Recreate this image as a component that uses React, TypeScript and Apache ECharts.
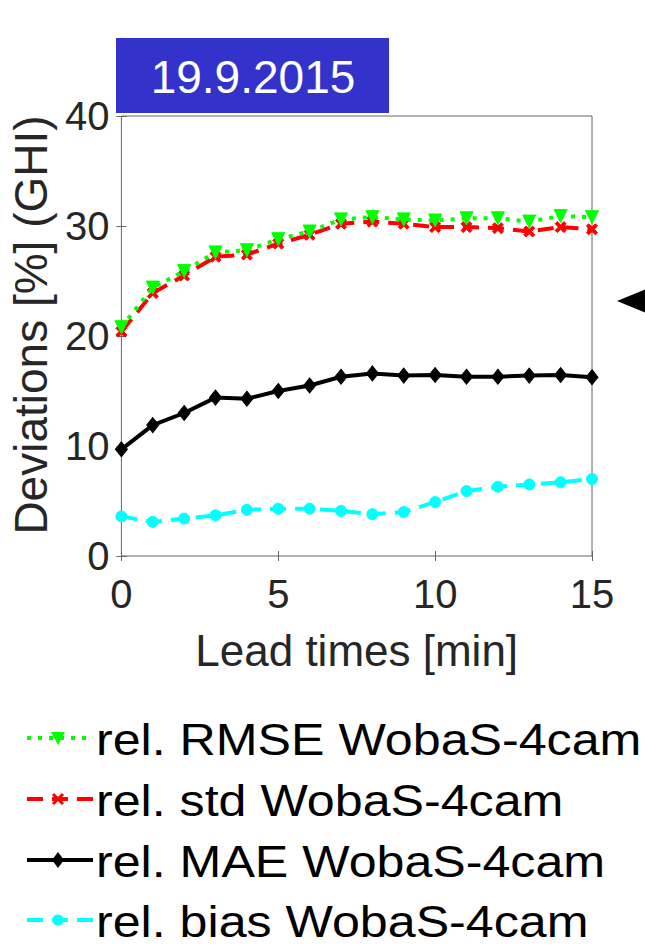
import React, { useEffect, useRef } from "react";
import * as echarts from "echarts";

const leadTimes = [0, 1, 2, 3, 4, 5, 6, 7, 8, 9, 10, 11, 12, 13, 14, 15];
const rmseValues = [20.8, 24.4, 25.9, 27.6, 27.8, 28.8, 29.5, 30.6, 30.8, 30.6, 30.5, 30.7, 30.7, 30.4, 30.9, 30.8];
const stdValues = [20.4, 23.9, 25.5, 27.2, 27.4, 28.4, 29.2, 30.2, 30.4, 30.2, 29.9, 29.9, 29.8, 29.5, 29.9, 29.7];
const maeValues = [9.7, 11.9, 13.0, 14.4, 14.3, 15.0, 15.5, 16.3, 16.6, 16.4, 16.45, 16.3, 16.3, 16.4, 16.45, 16.25];
const biasValues = [3.6, 3.1, 3.4, 3.7, 4.2, 4.3, 4.3, 4.1, 3.8, 4.0, 4.9, 5.9, 6.3, 6.5, 6.7, 7.0];
const seriesNames = [
  "rel. RMSE WobaS-4cam",
  "rel. std WobaS-4cam",
  "rel. MAE WobaS-4cam",
  "rel. bias WobaS-4cam",
];
const titleText = "19.9.2015";
const xAxisName = "Lead times [min]";
const yAxisName = "Deviations [%] (GHI)";

const FONT = "'Liberation Sans', Arial, sans-serif";
const X_SYMBOL = "path://M0,2L2,0L5,3L8,0L10,2L7,5L10,8L8,10L5,7L2,10L0,8L3,5Z";

const styles = [
  { color: "#00ff00", dash: [4, 7], symbol: "triangle", rotate: 180, size: 13 },
  { color: "#ff0000", dash: [16, 9], symbol: X_SYMBOL, rotate: 0, size: 11 },
  { color: "#000000", dash: "solid", symbol: "diamond", rotate: 0, size: [12, 15] },
  { color: "#00ffff", dash: [16, 9], symbol: "circle", rotate: 0, size: 11 },
];

export default function App() {
  const ref = useRef<HTMLDivElement>(null);
  useEffect(() => {
    document.body.style.margin = "0";
    if (!ref.current) return;
    const chart = echarts.init(ref.current, null, { renderer: "svg" });
    const allValues = [rmseValues, stdValues, maeValues, biasValues];
    const series = allValues.map((vals, i) => ({
      name: seriesNames[i],
      type: "line",
      data: leadTimes.map((t, j) => [t, vals[j]]),
      symbol: styles[i].symbol,
      symbolRotate: styles[i].rotate,
      symbolSize: styles[i].size,
      showSymbol: true,
      clip: false,
      lineStyle: { color: styles[i].color, width: 4, type: styles[i].dash as any },
      itemStyle: { color: styles[i].color, borderColor: styles[i].color, borderWidth: 1 },
      z: 10 - i,
    }));

    const legendRowsY = [738, 799, 860, 920];
    const legendGraphics: any[] = [];
    seriesNames.forEach((name, i) => {
      const y = legendRowsY[i];
      const st = styles[i];
      legendGraphics.push({
        type: "line",
        shape: { x1: 27, y1: y, x2: 93, y2: y },
        style: {
          stroke: st.color,
          lineWidth: 4,
          lineDash: st.dash === "solid" ? null : (st.dash as number[]),
        },
      });
      legendGraphics.push({
        type: "text",
        x: 96,
        y: y + 2,
        scaleX: 1.14,
        style: {
          text: name,
          fontSize: 44,
          fontFamily: FONT,
          fill: "#000",
          align: "left",
          verticalAlign: "middle",
        },
      });
    });

    const mk = (i: number, y: number) => {
      const cx = 58;
      if (i === 0)
        return { type: "polygon", shape: { points: [[cx - 7, y - 6], [cx + 7, y - 6], [cx, y + 7]] }, style: { fill: styles[0].color } };
      if (i === 1)
        return {
          type: "group",
          children: [
            { type: "line", shape: { x1: cx - 5, y1: y - 5, x2: cx + 5, y2: y + 5 }, style: { stroke: styles[1].color, lineWidth: 3 } },
            { type: "line", shape: { x1: cx - 5, y1: y + 5, x2: cx + 5, y2: y - 5 }, style: { stroke: styles[1].color, lineWidth: 3 } },
          ],
        };
      if (i === 2)
        return { type: "polygon", shape: { points: [[cx, y - 8], [cx + 6, y], [cx, y + 8], [cx - 6, y]] }, style: { fill: "#000" } };
      return { type: "circle", shape: { cx, cy: y, r: 5.5 }, style: { fill: styles[3].color } };
    };
    legendRowsY.forEach((y, i) => legendGraphics.push(mk(i, y)));

    chart.setOption({
      animation: false,
      backgroundColor: "#ffffff",
      textStyle: { fontFamily: FONT },
      grid: {
        left: 117,
        top: 116,
        right: 53,
        bottom: 396,
        show: true,
        borderColor: "#666",
        borderWidth: 1,
        backgroundColor: "transparent",
      },
      xAxis: [
        {
          type: "value",
          min: 0,
          max: 15,
          interval: 5,
          name: xAxisName,
          nameLocation: "middle",
          nameGap: 72,
          nameTextStyle: { fontSize: 44, color: "#262626", fontFamily: FONT },
          axisLine: { show: false },
          axisTick: { show: true, inside: true, length: 5, lineStyle: { color: "#666" } },
          axisLabel: { fontSize: 40, color: "#262626", margin: 18, fontFamily: FONT },
          splitLine: { show: false },
        },
        {
          type: "value",
          position: "top",
          min: 0,
          max: 15,
          interval: 5,
          axisLine: { show: false },
          axisTick: { show: true, inside: true, length: 5, lineStyle: { color: "#666" } },
          axisLabel: { show: false },
          splitLine: { show: false },
        },
      ],
      yAxis: [
        {
          type: "value",
          min: 0,
          max: 40,
          interval: 10,
          name: yAxisName,
          nameLocation: "middle",
          nameGap: 60,
          nameTextStyle: { fontSize: 46, color: "#262626", fontFamily: FONT, padding: [0, 0, 0, 22] },
          axisLine: { show: false },
          axisTick: { show: true, inside: true, length: 5, lineStyle: { color: "#666" } },
          axisLabel: { fontSize: 40, color: "#262626", margin: 12, fontFamily: FONT },
          splitLine: { show: false },
        },
        {
          type: "value",
          position: "right",
          min: 0,
          max: 40,
          interval: 10,
          axisLine: { show: false },
          axisTick: { show: true, inside: true, length: 5, lineStyle: { color: "#666" } },
          axisLabel: { show: false },
          splitLine: { show: false },
        },
      ],
      series,
      graphic: [
        { type: "rect", shape: { x: 116, y: 38, width: 273, height: 75 }, style: { fill: "#3333cc" } },
        {
          type: "text",
          x: 253,
          y: 77,
          style: { text: titleText, fontSize: 46, fontFamily: FONT, fill: "#ffffff", align: "center", verticalAlign: "middle" },
        },
        { type: "polygon", shape: { points: [[617, 301], [646, 289], [646, 313]] }, style: { fill: "#000" } },
        ...legendGraphics,
      ],
    });
    return () => chart.dispose();
  }, []);
  return <div ref={ref} style={{ width: 645, height: 952 }} />;
}
